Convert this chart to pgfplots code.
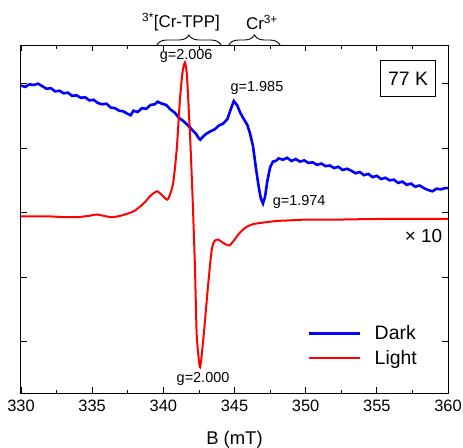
\documentclass[border=0pt]{standalone}
\usepackage{fontspec}
\setmainfont{Liberation Sans}
\usepackage{pgfplots}
\pgfplotsset{compat=1.18}
\usetikzlibrary{decorations.pathreplacing}

\begin{document}
\begin{tikzpicture}
\useasboundingbox (-21bp,-55bp) rectangle (442bp,393bp);
\begin{axis}[
    scale only axis,
    width=427bp, height=348bp,
    xmin=330, xmax=360, ymin=-2.8, ymax=2.6,
    xtick={330,335,...,360}, minor x tick num=1,
    ytick={-2,-1,0,1,2}, yticklabels={},
    tick align=inside,
    major tick length=6bp, minor tick length=3.5bp,
    axis line style={line width=1bp},
    tick style={line width=0.8bp, black},
    /pgf/number format/assume math mode=true,
    /pgf/number format/1000 sep={},
    tick label style={font=\fontsize{16.5}{19}\selectfont},
    xticklabel style={yshift=-4bp},
    xlabel={B (mT)},
    label style={font=\fontsize{18.5}{21}\selectfont},
    xlabel style={yshift=-12bp},
    clip=false,
    legend style={draw=none, fill=none, font=\fontsize{19.5}{22}\selectfont,
        at={(0.665,0.205)}, anchor=north west, row sep=5bp},
    legend cell align=left,
    legend image code/.code={\draw[#1] (0bp,0bp) -- (51bp,0bp); \path (62bp,0bp);},
]

% Dark
\addplot[blue, line width=2.6bp] coordinates {
(330.0,1.97) (330.3,1.95) (330.6,1.99) (330.9,1.98) (331.2,2.00) (331.5,1.96)
(331.8,1.92) (332.1,1.93) (332.4,1.88) (332.7,1.89) (333.0,1.85) (333.3,1.86)
(333.6,1.81) (333.9,1.82) (334.2,1.78) (334.5,1.79) (334.8,1.74) (335.1,1.75)
(335.4,1.70) (335.7,1.68) (336.0,1.69) (336.3,1.63) (336.6,1.62) (336.9,1.58)
(337.2,1.57) (337.5,1.53) (337.7,1.51) (337.9,1.58) (338.2,1.56) (338.5,1.62)
(338.8,1.61) (339.1,1.67) (339.4,1.68) (339.6,1.72) (339.9,1.69) (340.2,1.67)
(340.5,1.60) (340.8,1.55) (341.1,1.47) (341.4,1.42) (341.7,1.36) (342.0,1.29)
(342.3,1.22) (342.5,1.15) (342.6,1.13) (342.8,1.18) (343.0,1.22) (343.3,1.26)
(343.6,1.29) (343.9,1.35) (344.2,1.38) (344.5,1.45) (344.7,1.58) (344.95,1.73)
(345.2,1.66) (345.4,1.55) (345.6,1.47) (345.9,1.36) (346.1,1.22) (346.3,1.03)
(346.5,0.70) (346.7,0.40) (346.85,0.22) (347.0,0.14) (347.15,0.25) (347.3,0.48)
(347.5,0.70) (347.7,0.79) (347.9,0.80) (348.1,0.84) (348.4,0.82) (348.7,0.85)
(349.0,0.80) (349.3,0.83) (349.6,0.79) (349.9,0.81) (350.2,0.77) (350.5,0.78)
(350.8,0.74) (351.1,0.76) (351.4,0.72) (351.7,0.73) (352.0,0.69) (352.3,0.71)
(352.6,0.66) (352.9,0.68) (353.2,0.65) (353.5,0.61) (353.8,0.63) (354.1,0.58)
(354.4,0.60) (354.7,0.55) (355.0,0.57) (355.3,0.52) (355.6,0.54) (355.9,0.50)
(356.2,0.51) (356.5,0.46) (356.8,0.48) (357.1,0.43) (357.4,0.45) (357.7,0.40)
(358.0,0.42) (358.3,0.38) (358.6,0.35) (358.9,0.33) (359.2,0.37) (359.5,0.36)
(359.8,0.38) (360.0,0.38)
};
\addlegendentry{Dark}

% Light (x10)
\addplot[red, line width=2bp, smooth, tension=0.4] coordinates {
(330,-0.06) (331,-0.06) (332,-0.06) (333,-0.07) (334,-0.07) (334.8,-0.05)
(335.3,-0.03) (335.8,-0.05) (336.3,-0.07) (336.8,-0.06) (337.3,-0.03)
(337.7,0.00) (338.0,0.03) (338.4,0.10) (338.7,0.16) (339.1,0.26) (339.55,0.33)
(339.9,0.27) (340.28,0.20) (340.5,0.30) (340.7,0.47) (340.94,0.98) (341.17,1.76)
(341.35,2.18) (341.52,2.33) (341.65,2.15) (341.75,1.76) (341.92,0.98)
(342.06,0.20) (342.22,-0.84) (342.34,-1.87) (342.5,-2.30) (342.58,-2.40)
(342.68,-2.25) (342.85,-1.87) (343.16,-1.09) (343.40,-0.58) (343.6,-0.44)
(343.86,-0.42) (344.2,-0.47) (344.64,-0.51) (345.0,-0.42) (345.39,-0.31)
(345.8,-0.23) (346.3,-0.18) (347.2,-0.15) (348.0,-0.13) (349,-0.12)
(350,-0.11) (352,-0.11) (355,-0.10) (360,-0.10)
};
\addlegendentry{Light}

\node[font=\fontsize{14.5}{16}\selectfont] at (axis cs:341.6,2.43) {g=2.006};
\node[font=\fontsize{14.5}{16}\selectfont] at (axis cs:346.58,1.94) {g=1.985};
\node[font=\fontsize{14.5}{16}\selectfont, anchor=west] at (axis cs:347.45,0.17) {g=1.974};
\node[font=\fontsize{14.5}{16}\selectfont] at (axis cs:342.79,-2.58) {g=2.000};
\node[draw, line width=0.8bp, font=\fontsize{19.5}{22}\selectfont,
      minimum width=55bp, minimum height=36bp, inner sep=0pt]
      at (axis cs:357.19,2.08) {77 K};
\node[font=\fontsize{19}{22}\selectfont] at (axis cs:358.28,-0.37) {× 10};

\draw[decorate, decoration={brace, amplitude=10bp}, line width=0.9bp]
    (axis cs:339.55,2.6) -- (axis cs:344.05,2.6);
\draw[decorate, decoration={brace, amplitude=10bp}, line width=0.9bp]
    (axis cs:344.6,2.6) -- (axis cs:348.2,2.6);
\node[font=\fontsize{17}{20}\selectfont] at (axis cs:341.24,2.95) {\textsuperscript{3*}[Cr-TPP]};
\node[font=\fontsize{17}{20}\selectfont] at (axis cs:346.93,2.95) {Cr\textsuperscript{3+}};
\end{axis}
\end{tikzpicture}
\end{document}
